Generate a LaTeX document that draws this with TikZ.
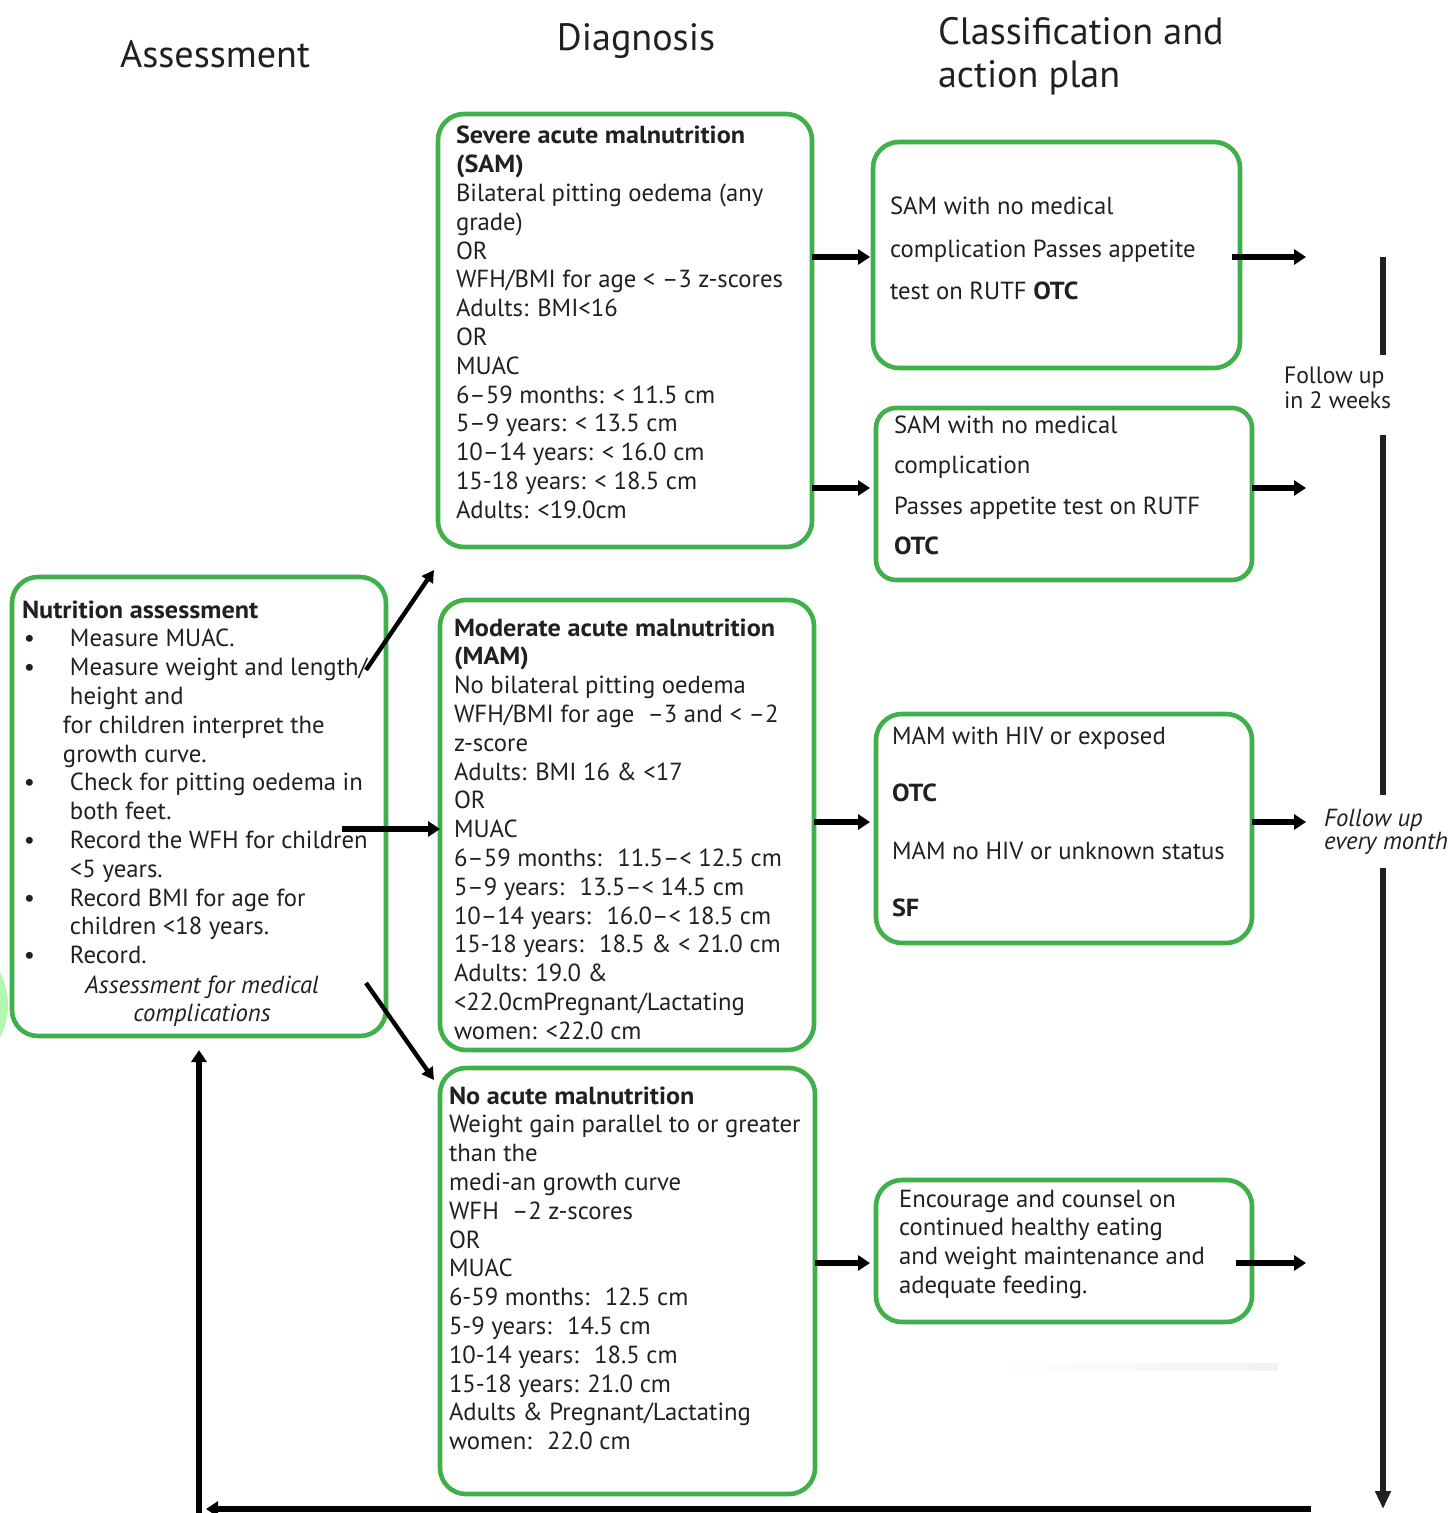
\documentclass[tikz,border=0pt]{standalone}
\usepackage{fontspec}
\setmainfont{PT Sans}[Scale=1.03,BoldFeatures={FakeStretch=1.06}]
\usetikzlibrary{arrows.meta,calc}
\definecolor{boxgreen}{RGB}{64,176,74}
\definecolor{ink}{RGB}{35,31,32}
\definecolor{glow}{RGB}{178,246,178}
% left-aligned block of lines whose first baseline is the node's base
\newcommand{\txtlines}[1]{\begin{tabular}[t]{@{}l@{}}#1\end{tabular}}
\newcommand{\txtcentre}[1]{\begin{tabular}[t]{@{}c@{}}#1\end{tabular}}
\newcommand{\bitem}{\makebox[24pt][l]{\hspace{1pt}\textbullet}}
\newcommand{\hang}{\hspace*{24pt}}
\begin{document}
\begin{tikzpicture}[x=0.5pt,y=-0.5pt,
  gbox/.style={draw=boxgreen,line width=2.3pt,rounded corners=13pt,inner sep=0pt,outer sep=0pt},
  txt/.style={anchor=base west,inner sep=0pt,outer sep=0pt,text=ink,font=\fontsize{12}{14.4}\selectfont},
  head/.style={inner sep=0pt,outer sep=0pt,text=ink,font=\fontsize{18.5}{21.4}\selectfont},
  arr/.style={line width=3pt,-{Triangle[length=6pt,width=7.5pt]}},
  diag/.style={line width=2.2pt,-{Triangle[length=6pt,width=6.5pt]}},
  rail/.style={line width=3pt,draw=ink}]
\useasboundingbox (0,0) rectangle (1453,1513);

% soft green patch at the left edge and faint grey strip
\fill[glow] (-38,1005) ellipse [x radius=46, y radius=58];
\shade[left color=white,right color=gray!10] (990,1363) rectangle (1278,1370);

% column headings
\node[head,anchor=base] (hAss) at (215,68) {Assessment};
\node[head,anchor=base] (hDia) at (636,51) {Diagnosis};
\node[head,anchor=base west] (hCls) at (938,45) {\txtlines{Classification and\\ action plan}};

% boxes
\node[gbox,minimum width=187pt,minimum height=229.5pt] (assess) at (199,806.5) {};
\node[gbox,minimum width=187pt,minimum height=216.5pt] (sam) at (625,330.5) {};
\node[gbox,minimum width=187pt,minimum height=225pt] (mam) at (627,825) {};
\node[gbox,minimum width=187.5pt,minimum height=213pt] (noam) at (627.5,1281) {};
\node[gbox,minimum width=183.5pt,minimum height=113pt] (c1) at (1056.5,255) {};
\node[gbox,minimum width=188pt,minimum height=86pt,rounded corners=10pt] (c2) at (1064,494) {};
\node[gbox,minimum width=188pt,minimum height=114.5pt] (c3) at (1064,828.5) {};
\node[gbox,minimum width=188pt,minimum height=71pt] (c4) at (1064,1251) {};

% assessment text
\node[txt] (tAss) at (22,618) {\txtlines{\textbf{Nutrition assessment}\\
\bitem Measure MUAC.\\
\bitem Measure weight and length/\\
\hang height and\\
\hspace*{20.5pt}for children interpret the\\
\hspace*{20.5pt}growth curve.\\
\bitem Check for pitting oedema in\\
\hang both feet.\\
\bitem Record the WFH for children\\
\hang <5 years.\\
\bitem Record BMI for age for\\
\hang children <18 years.\\
\bitem Record.}};
\node[txt,anchor=base] (tAssIt) at (202,993) {\txtcentre{\textit{Assessment for medical}\\ \textit{complications}}};

% diagnosis texts
\node[txt] (tSam) at (456,144) {\txtlines{\textbf{Severe acute malnutrition}\\
\textbf{(SAM)}\\
Bilateral pitting oedema (any\\
grade)\\
OR\\
WFH/BMI for age < –3 z-scores\\
Adults: BMI<16\\
OR\\
MUAC\\
6–59 months: < 11.5 cm\\
5–9 years: < 13.5 cm\\
10–14 years: < 16.0 cm\\
15-18 years: < 18.5 cm\\
Adults: <19.0cm}};

\node[txt] (tMam) at (454,636) {\txtlines{\textbf{Moderate acute malnutrition}\\
\textbf{(MAM)}\\
No bilateral pitting oedema\\
WFH/BMI for age \ –3 and < –2\\
z-score\\
Adults: BMI 16 \& <17\\
OR\\
MUAC\\
6–59 months: \ 11.5–< 12.5 cm\\
5–9 years: \ 13.5–< 14.5 cm\\
10–14 years: \ 16.0–< 18.5 cm\\
15-18 years: \ 18.5 \& < 21.0 cm\\
Adults: 19.0 \&\\
<22.0cmPregnant/Lactating\\
women: <22.0 cm}};

\node[txt] (tNoam) at (449,1104) {\txtlines{\textbf{No acute malnutrition}\\
Weight gain parallel to or greater\\
than the\\
medi-an growth curve\\
WFH \ –2 z-scores\\
OR\\
MUAC\\
6-59 months: \ 12.5 cm\\
5-9 years: \ 14.5 cm\\
10-14 years: \ 18.5 cm\\
15-18 years: 21.0 cm\\
Adults \& Pregnant/Lactating\\
women: \ 22.0 cm}};

% classification texts
\node[txt,font=\fontsize{12}{21.25}\selectfont] (tC1) at (890,215) {\txtlines{SAM with no medical\\
complication Passes appetite\\
test on RUTF \textbf{OTC}}};
\node[txt,font=\fontsize{12}{20}\selectfont] (tC2) at (894,434) {\txtlines{SAM with no medical\\
complication\\
Passes appetite test on RUTF\\
\textbf{OTC}}};
\node[txt,font=\fontsize{12}{28.75}\selectfont] (tC3) at (892,744) {\txtlines{MAM with HIV or exposed\\
\textbf{OTC}\\
MAM no HIV or unknown status\\
\textbf{SF}}};
\node[txt] (tC4) at (899,1207) {\txtlines{Encourage and counsel on\\
continued healthy eating\\
and weight maintenance and\\
adequate feeding.}};

% follow-up labels
\node[txt,font=\fontsize{11.5}{12}\selectfont] (fu2w) at (1284,384) {\txtlines{Follow up\\ in 2 weeks}};
\node[txt,font=\fontsize{12}{11}\selectfont\itshape] (fuM) at (1324,826) {\txtlines{\textit{Follow up}\\ \textit{every month}}};

% arrows from the assessment box
\draw[diag] ($(assess.north east)+(-20,93)$) -- ($(sam.south west)+(-4,23)$);
\coordinate (yM) at (0,829);
\draw[arr] ($(assess.east |- yM)+(-44,0)$) -- (mam.west |- yM);
\draw[diag] ($(assess.south east)+(-20,-53)$) -- ($(noam.north west)+(-6,12)$);

% arrows from diagnosis to classification
\coordinate (y1) at (0,257);
\coordinate (y2) at (0,488);
\coordinate (y3) at (0,822);
\coordinate (y4) at (0,1263);
\draw[arr,shorten >=1.5pt] (sam.east |- y1) -- (c1.west |- y1);
\draw[arr,shorten >=3pt] (sam.east |- y2) -- (c2.west |- y2);
\draw[arr,shorten >=3pt] (mam.east |- y3) -- (c3.west |- y3);
\draw[arr,shorten >=3pt] (noam.east |- y4) -- (c4.west |- y4);

% arrows leaving the classification boxes
\coordinate (o1) at (1306,257);
\coordinate (o2) at (1306,488);
\coordinate (o3) at (1306,822);
\coordinate (o4) at (1306,1263);
\draw[arr] ($(c1.east |- y1)+(-8,0)$) -- (o1);
\draw[arr] (c2.east |- y2) -- (o2);
\draw[arr] (c3.east |- y3) -- (o3);
\draw[arr] ($(c4.east |- y4)+(-16,0)$) -- (o4);

% follow-up rail on the right
\coordinate (r0) at (1383,257);
\coordinate (r1) at (1383,355);
\coordinate (r2) at (1383,435);
\coordinate (r3) at (1383,795);
\coordinate (r4) at (1383,868);
\coordinate (r5) at (1383,1509);
\draw[rail] (r0) -- (r1);
\draw[rail] (r2) -- (r3);
\draw[arr,draw=ink,-{Triangle[length=9pt,width=7.5pt]}] (r4) -- (r5);

% return path to the assessment box
\coordinate (bR) at (1311,1509);
\coordinate (bL) at (206,1509);
\coordinate (lB) at (199,1520);
\draw[arr] (bR) -- (bL);
\draw[arr] (lB) -- ([yshift=-7pt]assess.south);
\end{tikzpicture}
\end{document}
